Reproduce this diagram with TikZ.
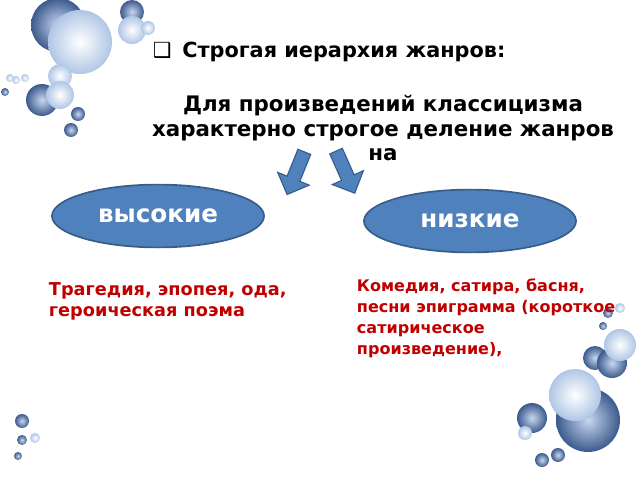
\documentclass[tikz,border=0pt]{standalone}
\usepackage{fontspec}
\setmainfont{DejaVu Sans}
\newfontfamily\symfont{DejaVu Sans}
\usetikzlibrary{shapes.geometric,shapes.arrows}
\definecolor{blueFill}{RGB}{79,129,189}
\definecolor{blueLine}{RGB}{56,93,138}
\definecolor{darkRed}{RGB}{192,0,0}
\definecolor{bubDark}{RGB}{60,90,140}
\definecolor{bubLight}{RGB}{200,215,240}
\tikzstyle{genre} = [ellipse, minimum width=5.3cm, minimum height=1.57cm, draw=blueLine, line width=1.2pt, fill=blueFill, text=white, font=\bfseries\fontsize{17.5}{20}\selectfont]
\tikzstyle{blockarrow} = [single arrow, draw=blueLine, fill=blueFill, line width=0.8pt, minimum height=1.15cm, minimum width=0.85cm, single arrow head extend=5pt, inner sep=3pt]
\tikzstyle{examples} = [anchor=north west, align=left, text=darkRed, font=\bfseries\fontsize{12.6}{15}\selectfont]
\tikzstyle{bubdark} = [inner color=bubLight, outer color=bubDark]
\tikzstyle{bublight} = [inner color=white, outer color=bubLight!80!blueFill]
\begin{document}
\begin{tikzpicture}[x=0.025cm, y=-0.025cm]
\useasboundingbox (0,0) rectangle (640,480);

% bubbles
\foreach \x/\y/\r in {58/25/27, 132/12/12, 42/100/16, 5/92/4, 78/114/7, 71/130/7, 588/420/32, 532/418/15, 542/460/7, 558/455/7, 595/358/12, 612/363/15, 608/313/5, 603/326/4, 22/421/7, 22/440/5, 18/456/4}
  \shade[bubdark] (\x,\y) circle (\r);
\foreach \x/\y/\r in {80/42/32, 132/30/14, 148/28/7, 60/76/12, 60/95/14, 10/78/4, 25/78/4, 16/80/4, 575/395/26, 525/433/7, 620/345/16, 620/308/5, 35/438/5}
  \shade[bublight] (\x,\y) circle (\r);

\node(title) [anchor=west, font=\bfseries\fontsize{14.8}{17}\selectfont] at (148,52) {{\symfont ❑}\, Строгая иерархия жанров:};
\node(lead) [align=center, font=\bfseries\fontsize{15.2}{17.5}\selectfont] at (383,128) {Для произведений классицизма\\характерно строгое деление жанров\\на};

\node(arrL) [blockarrow, rotate=-112] at (297,170) {};
\node(arrR) [blockarrow, rotate=-66] at (344,169) {};

\node(high) [genre] at (158,216) {высокие};
\node(low)  [genre] at (470,221) {низкие};

\node(highEx) [examples] at (44,278) {Трагедия, эпопея, ода,\\героическая поэма};
\node(lowEx)  [examples, font=\bfseries\fontsize{11.4}{15}\selectfont] at (352,274) {Комедия, сатира, басня,\\песни эпиграмма (короткое\\сатирическое\\произведение),};
\end{tikzpicture}
\end{document}
